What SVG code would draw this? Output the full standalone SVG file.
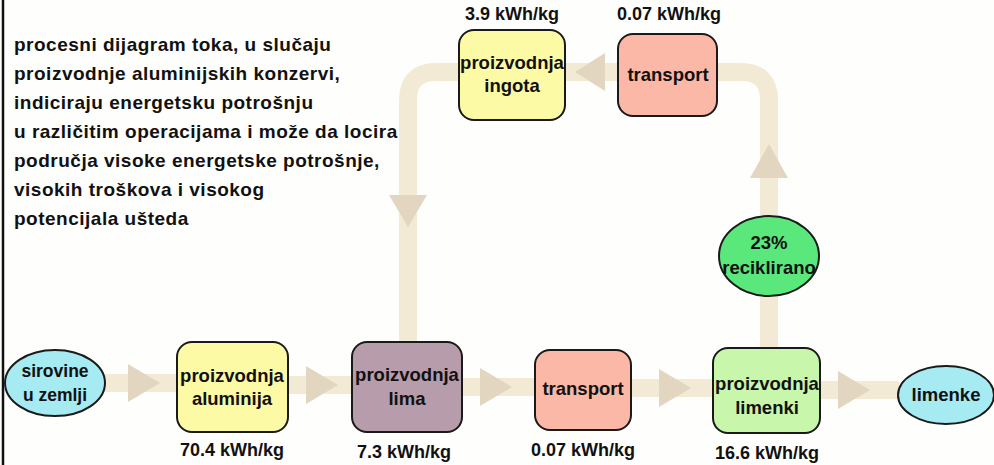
<svg xmlns="http://www.w3.org/2000/svg" width="994" height="465" viewBox="0 0 994 465">
<style>
text{font-family:"Liberation Sans",Arial,sans-serif;font-weight:bold;fill:#111;text-anchor:middle}
.intro text{text-anchor:start;font-size:19px;letter-spacing:0.5px}
.n{stroke:#1a1a1a;stroke-width:2}
.t{font-size:18.5px}
.s{font-size:17.5px}
.lbl{font-size:18px}
.band{fill:none;stroke:#f2ead4;stroke-width:18}
.head{fill:#e2d6c0}
</style>
<rect width="994" height="465" fill="#fefefc"/>
<line x1="3" y1="0" x2="3" y2="465" stroke="#111" stroke-width="2.5"/>
<g class="intro">
<text x="14" y="51">procesni dijagram toka, u slučaju</text>
<text x="14" y="80">proizvodnje aluminijskih konzervi,</text>
<text x="14" y="109">indiciraju energetsku potrošnju</text>
<text x="14" y="138">u različitim operacijama i može da locira</text>
<text x="14" y="167">područja visoke energetske potrošnje,</text>
<text x="14" y="196">visokih troškova i visokog</text>
<text x="14" y="225">potencijala ušteda</text>
</g>
<g id="connectors">
<path class="band" d="M104 383 H177"/>
<polygon class="head" points="128,364 160,383 128,402"/>
<path class="band" d="M288 385 H352"/>
<polygon class="head" points="306,366 338,385 306,404"/>
<path class="band" d="M462 387 H535"/>
<polygon class="head" points="480,368 512,387 480,406"/>
<path class="band" d="M631 388 H713"/>
<polygon class="head" points="659,369 691,388 659,407"/>
<path class="band" d="M820 390 H899"/>
<polygon class="head" points="838,371 870,390 838,409"/>
<path class="band" d="M769 348 V295"/>
<path class="band" d="M769 215 V100 Q769 72 741 72 H717"/>
<polygon class="head" points="750,178 769,144 788,178"/>
<path class="band" d="M618 72 H565"/>
<polygon class="head" points="605,53 575,72 605,91"/>
<path class="band" d="M459 72 H436 Q408 72 408 100 V342"/>
<polygon class="head" points="389,195 427,195 408,227"/>
</g>
<g id="sirovine">
<ellipse class="n" cx="55" cy="383" rx="50" ry="33" fill="#a6eaf2"/>
<text class="s" x="55" y="377">sirovine</text>
<text class="s" x="55" y="401">u zemlji</text>
</g>
<g id="aluminij">
<rect class="n" x="177" y="342" width="111" height="90" rx="15" fill="#fdfaa6"/>
<text class="t" x="232" y="382">proizvodnja</text>
<text class="t" x="232" y="405">aluminija</text>
<text class="lbl" x="232" y="456">70.4 kWh/kg</text>
</g>
<g id="lima">
<rect class="n" x="352" y="342" width="110" height="90" rx="15" fill="#b79cab"/>
<text class="t" x="407" y="381">proizvodnja</text>
<text class="t" x="407" y="405">lima</text>
<text class="lbl" x="404" y="458">7.3 kWh/kg</text>
</g>
<g id="transport1">
<rect class="n" x="535" y="350" width="96" height="80" rx="15" fill="#fcb8a6"/>
<text class="t" x="583" y="395">transport</text>
<text class="lbl" x="583" y="456">0.07 kWh/kg</text>
</g>
<g id="limenki">
<rect class="n" x="713" y="348" width="107" height="85" rx="15" fill="#c8f6aa"/>
<text class="t" x="767" y="390">proizvodnja</text>
<text class="t" x="767" y="414">limenki</text>
<text class="lbl" x="767" y="459">16.6 kWh/kg</text>
</g>
<g id="limenke">
<ellipse class="n" cx="946" cy="395" rx="48" ry="29" fill="#a6eaf2"/>
<text class="t" x="946" y="401">limenke</text>
</g>
<g id="reciklirano">
<ellipse class="n" cx="769" cy="256" rx="50" ry="40" fill="#5ae87c"/>
<text class="t" x="769" y="249">23%</text>
<text class="t" x="769" y="274">reciklirano</text>
</g>
<g id="ingota">
<rect class="n" x="459" y="30" width="106" height="90" rx="15" fill="#fdfaa6"/>
<text class="t" x="512" y="69">proizvodnja</text>
<text class="t" x="512" y="92">ingota</text>
<text class="lbl" x="512" y="20">3.9 kWh/kg</text>
</g>
<g id="transport2">
<rect class="n" x="618" y="34" width="99" height="82" rx="15" fill="#fcb8a6"/>
<text class="t" x="668" y="81">transport</text>
<text class="lbl" x="669" y="20">0.07 kWh/kg</text>
</g>
</svg>
